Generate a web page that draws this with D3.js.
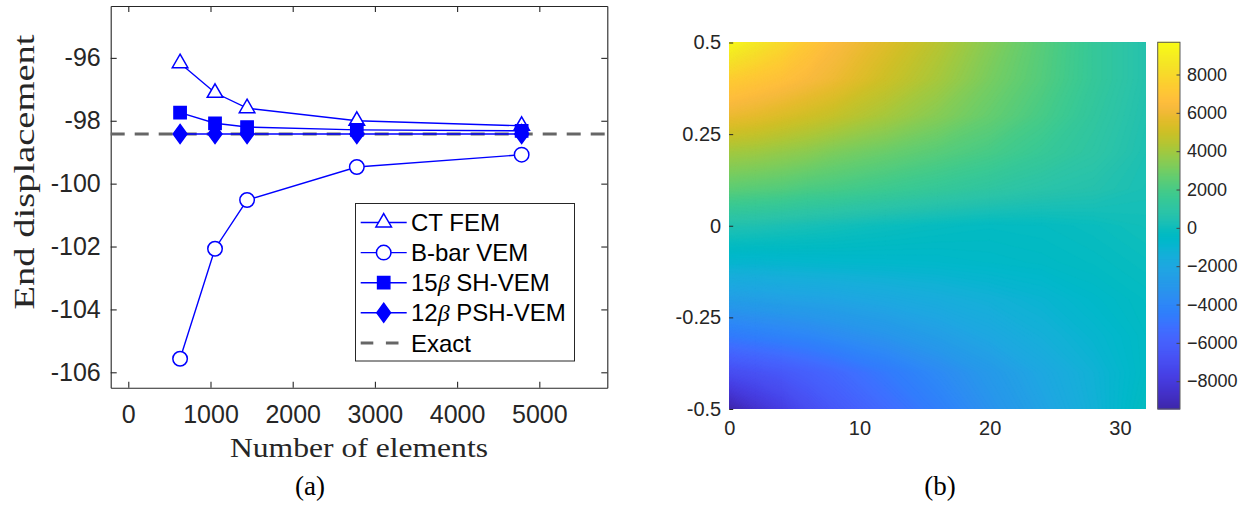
<!DOCTYPE html>
<html><head><meta charset="utf-8">
<script src="https://cdn.jsdelivr.net/npm/d3@7"></script>
<style>body{margin:0;background:#fff} svg{display:block}</style>
</head><body><svg id="c" width="1240" height="507"></svg>
<script>
// ---------- Data: panel (a) ----------
const elements = [630, 1055, 1445, 2780, 4785];
const ctFem   = [-96.17, -97.11, -97.60, -98.00, -98.16];
const bbarVem = [-105.57, -102.07, -100.52, -99.47, -99.08];
const sh15    = [-97.74, -98.08, -98.20, -98.29, -98.32];
const psh12   = [-98.42, -98.42, -98.42, -98.42, -98.42];
const exactValue = -98.42;
const xTicksA = [0, 1000, 2000, 3000, 4000, 5000];
const yTicksA = [-106, -104, -102, -100, -98, -96];
const legendNames = ["CT FEM", "B-bar VEM", "15|β| SH-VEM", "12|β| PSH-VEM", "Exact"];

// ---------- Data: panel (b) ----------
const gridX = [0, 2, 4, 6, 8, 12, 16, 20, 24, 28, 32];
const gridY = [0.5, 0.4, 0.3, 0.2, 0.1, 0, -0.1, -0.2, -0.3, -0.4, -0.5];
const stressRow1  = [9500, 8700, 8000, 7200, 6500, 5500, 4500, 3400, 2400, 1400, 600];
const stressRow2  = [7400, 7100, 6800, 6400, 6000, 5000, 4100, 3100, 2300, 1400, 600];
const stressRow3  = [5900, 5700, 5400, 5100, 4800, 4100, 3400, 2700, 2000, 1200, 500];
const stressRow4  = [4000, 3900, 3700, 3500, 3200, 2800, 2400, 2000, 1500, 1000, 400];
const stressRow5  = [2500, 2400, 2300, 2100, 2000, 1700, 1400, 1100, 800, 600, 300];
const stressRow6  = [500, 450, 350, 250, 150, -50, -200, -300, -250, -100, 100];
const stressRow7  = [-900, -900, -850, -800, -750, -700, -650, -550, -450, -300, -100];
const stressRow8  = [-2600, -2500, -2400, -2300, -2200, -1900, -1600, -1300, -1000, -600, -300];
const stressRow9  = [-4600, -4400, -4200, -4000, -3700, -3200, -2600, -2000, -1400, -900, -400];
const stressRow10 = [-7000, -6700, -6400, -6000, -5600, -4700, -3800, -2900, -2000, -1200, -400];
const stressRow11 = [-9400, -8500, -7800, -7000, -6400, -5400, -4400, -3300, -2300, -1300, -200];
const stressRows = [stressRow1, stressRow2, stressRow3, stressRow4, stressRow5, stressRow6,
                    stressRow7, stressRow8, stressRow9, stressRow10, stressRow11];
const colorLimits = [-9450, 9680];
const xTicksB = [0, 10, 20, 30];
const yTicksB = [0.5, 0.25, 0, -0.25, -0.5];
const yTickLabelsB = ["0.5", "0.25", "0", "-0.25", "-0.5"];
const cbTicks = [-8000, -6000, -4000, -2000, 0, 2000, 4000, 6000, 8000];

// parula colormap (64 entries)
const parula = [[0.2422,0.1504,0.6603],[0.2504,0.1650,0.7076],[0.2578,0.1818,0.7511],[0.2647,0.1978,0.7952],[0.2706,0.2147,0.8364],[0.2751,0.2342,0.8710],[0.2783,0.2559,0.8991],[0.2803,0.2782,0.9221],[0.2813,0.3006,0.9414],[0.2810,0.3228,0.9579],[0.2795,0.3447,0.9717],[0.2760,0.3667,0.9829],[0.2699,0.3892,0.9906],[0.2602,0.4123,0.9952],[0.2440,0.4358,0.9988],[0.2206,0.4603,0.9973],[0.1963,0.4847,0.9892],[0.1834,0.5074,0.9798],[0.1786,0.5289,0.9682],[0.1764,0.5499,0.9520],[0.1687,0.5703,0.9359],[0.1540,0.5902,0.9218],[0.1460,0.6091,0.9079],[0.1380,0.6276,0.8973],[0.1248,0.6459,0.8883],[0.1113,0.6635,0.8763],[0.0952,0.6798,0.8598],[0.0689,0.6948,0.8394],[0.0297,0.7082,0.8163],[0.0036,0.7203,0.7917],[0.0067,0.7312,0.7660],[0.0433,0.7411,0.7394],[0.0964,0.7500,0.7120],[0.1408,0.7584,0.6842],[0.1717,0.7670,0.6554],[0.1938,0.7758,0.6251],[0.2161,0.7843,0.5923],[0.2470,0.7918,0.5567],[0.2906,0.7973,0.5188],[0.3406,0.8008,0.4789],[0.3909,0.8029,0.4354],[0.4456,0.8024,0.3909],[0.5044,0.7993,0.3480],[0.5616,0.7942,0.3045],[0.6174,0.7876,0.2612],[0.6720,0.7793,0.2227],[0.7242,0.7698,0.1910],[0.7738,0.7598,0.1646],[0.8203,0.7498,0.1535],[0.8634,0.7406,0.1596],[0.9035,0.7330,0.1774],[0.9393,0.7288,0.2100],[0.9728,0.7298,0.2394],[0.9956,0.7434,0.2371],[0.9970,0.7659,0.2199],[0.9952,0.7893,0.2028],[0.9892,0.8136,0.1885],[0.9786,0.8386,0.1766],[0.9676,0.8639,0.1643],[0.9610,0.8890,0.1537],[0.9597,0.9135,0.1423],[0.9628,0.9373,0.1265],[0.9691,0.9606,0.1064],[0.9769,0.9839,0.0805]]
  .map(c => d3.rgb(c[0]*255, c[1]*255, c[2]*255).toString());

const svg = d3.select("#c");
const AX = "#262626";
const SANS = "'Liberation Sans', Arial, Helvetica, sans-serif";
const SERIF = "'Liberation Serif', 'Times New Roman', serif";

// ================= Panel (a) =================
const xA = d3.scaleLinear().domain([-214, 5827]).range([110.7, 607.3]);
const yA = d3.scaleLinear().domain([-106.49, -94.35]).range([387.7, 6]);
const gA = svg.append("g");

gA.append("rect").attr("x", xA.range()[0]).attr("y", yA.range()[1])
  .attr("width", xA.range()[1]-xA.range()[0]).attr("height", yA.range()[0]-yA.range()[1])
  .attr("fill", "#fff");

// axes (ticks inside, mirrored)
const axB = gA.append("g").attr("transform", `translate(0,${yA.range()[0]})`)
  .call(d3.axisBottom(xA).tickValues(xTicksA).tickSizeInner(-6).tickSizeOuter(0).tickPadding(18).tickFormat(d3.format("d")));
const axT = gA.append("g").attr("transform", `translate(0,${yA.range()[1]})`)
  .call(d3.axisTop(xA).tickValues(xTicksA).tickSizeInner(-6).tickSizeOuter(0).tickFormat(""));
const axL = gA.append("g").attr("transform", `translate(${xA.range()[0]},0)`)
  .call(d3.axisLeft(yA).tickValues(yTicksA).tickSizeInner(-6).tickSizeOuter(0).tickPadding(10).tickFormat(d => String(d)));
const axR = gA.append("g").attr("transform", `translate(${xA.range()[1]},0)`)
  .call(d3.axisRight(yA).tickValues(yTicksA).tickSizeInner(-6).tickSizeOuter(0).tickFormat(""));
[axB, axT, axL, axR].forEach(a => {
  a.select(".domain").attr("stroke", AX).attr("stroke-width", 1.1);
  a.selectAll(".tick line").attr("stroke", AX).attr("stroke-width", 1.1);
  a.selectAll("text").attr("fill", AX).style("font-family", SANS).style("font-size", "25px");
});

// exact dashed line
gA.append("line")
  .attr("x1", xA.range()[0]).attr("x2", xA.range()[1])
  .attr("y1", yA(exactValue)).attr("y2", yA(exactValue))
  .attr("stroke", "#666666").attr("stroke-width", 3).attr("stroke-dasharray", "14,10");

const BLUE = "#0000ff";
const lineGen = d3.line().x((d,i) => xA(elements[i])).y(d => yA(d));
const triPath = d3.symbol().type(d3.symbolTriangle).size(105)();
const circPath = d3.symbol().type(d3.symbolCircle).size(165)();
const sqPath = d3.symbol().type(d3.symbolSquare).size(150)();
const diaPath = "M0,-9.5L6.9,0L0,9.5L-6.9,0Z";
const seriesList = [
  {vals: ctFem, path: triPath, fill: "#fff"},
  {vals: bbarVem, path: circPath, fill: "#fff"},
  {vals: sh15, path: sqPath, fill: BLUE},
  {vals: psh12, path: diaPath, fill: BLUE}
];
seriesList.forEach(s => {
  gA.append("path").attr("d", lineGen(s.vals)).attr("fill", "none")
    .attr("stroke", BLUE).attr("stroke-width", 1.4);
  gA.selectAll(null).data(s.vals).join("path")
    .attr("d", s.path)
    .attr("transform", (d,i) => `translate(${xA(elements[i])},${yA(d)})`)
    .attr("fill", s.fill).attr("stroke", BLUE).attr("stroke-width", 1.5);
});

// legend
const leg = gA.append("g");
leg.append("rect").attr("x", 355.5).attr("y", 203.5).attr("width", 219).attr("height", 157.5)
  .attr("fill", "#fff").attr("stroke", AX).attr("stroke-width", 1);
legendNames.forEach((name, i) => {
  const cy = 222.5 + i * 30.1;
  if (i < 4) {
    leg.append("line").attr("x1", 360.7).attr("x2", 406.7).attr("y1", cy).attr("y2", cy)
      .attr("stroke", BLUE).attr("stroke-width", 1.4);
    leg.append("path").attr("d", seriesList[i].path).attr("transform", `translate(383.7,${cy})`)
      .attr("fill", seriesList[i].fill).attr("stroke", BLUE).attr("stroke-width", 1.5);
  } else {
    leg.append("line").attr("x1", 360.7).attr("x2", 398.5).attr("y1", cy).attr("y2", cy)
      .attr("stroke", "#666666").attr("stroke-width", 3).attr("stroke-dasharray", "12.6,12.6");
  }
  const t = leg.append("text").attr("x", 411).attr("y", cy).attr("dy", "0.36em")
    .attr("fill", "#000").style("font-family", SANS).style("font-size", "24px");
  name.split("|").forEach((part, k) => {
    const ts = t.append("tspan").text(part);
    if (k === 1) ts.style("font-family", SERIF).style("font-style", "italic");
  });
});

// axis labels
gA.append("text").attr("x", 359).attr("y", 456.5).attr("text-anchor", "middle")
  .style("font-family", SERIF).style("font-size", "28px").attr("fill", AX)
  .attr("textLength", 258).attr("lengthAdjust", "spacingAndGlyphs")
  .text("Number of elements");
gA.append("text").attr("transform", "translate(34,172) rotate(-90)").attr("text-anchor", "middle")
  .style("font-family", SERIF).style("font-size", "29px").attr("fill", AX)
  .attr("textLength", 275).attr("lengthAdjust", "spacingAndGlyphs")
  .text("End displacement");
svg.append("text").attr("x", 310).attr("y", 495).attr("text-anchor", "middle")
  .style("font-family", SERIF).style("font-size", "27px").attr("fill", "#000").text("(a)");

// ================= Panel (b) =================
const xB = d3.scaleLinear().domain([0, 32]).range([729.2, 1146]);
const yB = d3.scaleLinear().domain([-0.5, 0.5]).range([409, 42.5]);
const color = d3.scaleSequential(d3.piecewise(d3.interpolateRgb, parula)).domain(colorLimits).clamp(true);
const gB = svg.append("g");
svg.append("defs").append("clipPath").attr("id", "hclip").append("rect")
  .attr("x", xB(0)).attr("y", yB(0.5)).attr("width", xB(32)-xB(0)).attr("height", yB(-0.5)-yB(0.5));

const nx = gridX.length, ny = gridY.length;
const values = stressRows.flat();
const thresholds = d3.range(-9600, 9800, 80);
const contours = d3.contours().size([nx, ny]).thresholds(thresholds)(values);
const ix = d3.scaleLinear().domain(d3.range(nx).map(i => i + 0.5)).range(gridX.map(v => xB(v)));
const iy = d3.scaleLinear().domain(d3.range(ny).map(j => j + 0.5)).range(gridY.map(v => yB(v)));
const proj = d3.geoTransform({ point(x, y) { this.stream.point(ix(x), iy(y)); } });
const gpath = d3.geoPath(proj);
gB.append("g").attr("clip-path", "url(#hclip)")
  .selectAll("path").data(contours).join("path")
  .attr("d", gpath)
  .attr("fill", d => color(d.value + 40))
  .attr("stroke", d => color(d.value + 40)).attr("stroke-width", 0.6);

const axBx = gB.append("g").attr("transform", `translate(0,${yB(-0.5)})`)
  .call(d3.axisBottom(xB).tickValues(xTicksB).tickSize(0).tickPadding(12));
const axBy = gB.append("g").attr("transform", `translate(${xB(0)},0)`)
  .call(d3.axisLeft(yB).tickValues(yTicksB).tickSize(0).tickPadding(8).tickFormat((d,i) => yTickLabelsB[i]));
[axBx, axBy].forEach(a => {
  a.select(".domain").remove();
  a.selectAll("text").attr("fill", AX).style("font-family", SANS).style("font-size", "20px");
});
axBy.selectAll(".tick").append("line").attr("x1", 0).attr("x2", 4).attr("stroke", AX).attr("stroke-width", 1);

// colorbar
const cbX0 = 1157.7, cbX1 = 1180;
const yC = d3.scaleLinear().domain(colorLimits).range([409, 42.3]);
const cbSteps = d3.range(colorLimits[0], colorLimits[1], 50);
gB.append("g").selectAll("rect").data(cbSteps).join("rect")
  .attr("x", cbX0).attr("width", cbX1 - cbX0)
  .attr("y", d => yC(Math.min(d + 50, colorLimits[1])) - 0.5)
  .attr("height", d => yC(d) - yC(Math.min(d + 50, colorLimits[1])) + 1)
  .attr("fill", d => color(d + 25));
gB.append("rect").attr("x", cbX0).attr("y", yC.range()[1]).attr("width", cbX1 - cbX0)
  .attr("height", yC.range()[0] - yC.range()[1]).attr("fill", "none").attr("stroke", "#5a5a5a").attr("stroke-width", 1);
const axC = gB.append("g").attr("transform", `translate(${cbX1},0)`)
  .call(d3.axisRight(yC).tickValues(cbTicks).tickSizeInner(-3.5).tickSizeOuter(0).tickPadding(7).tickFormat(d3.format("d")));
axC.select(".domain").remove();
axC.selectAll(".tick line").attr("stroke", "#444").attr("stroke-width", 1);
axC.selectAll("text").attr("fill", AX).style("font-family", SANS).style("font-size", "18px");

svg.append("text").attr("x", 940).attr("y", 495).attr("text-anchor", "middle")
  .style("font-family", SERIF).style("font-size", "27px").attr("fill", "#000").text("(b)");
</script></body></html>
